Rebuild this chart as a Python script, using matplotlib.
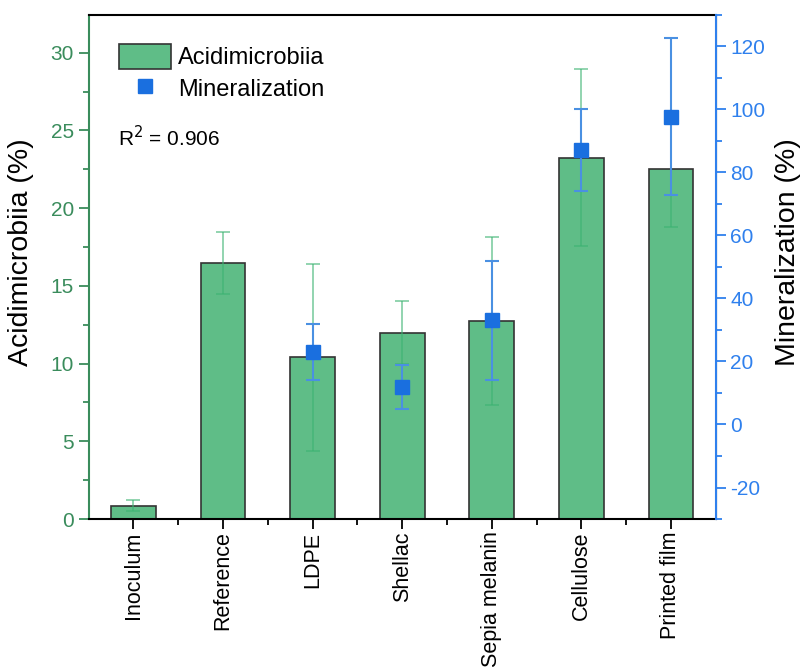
import numpy as np
import matplotlib
matplotlib.use('Agg')
import matplotlib.pyplot as plt
from matplotlib.patches import Patch
from matplotlib.lines import Line2D
from matplotlib.ticker import MultipleLocator

plt.rcParams['font.family'] = ['Liberation Sans', 'DejaVu Sans']
plt.rcParams['axes.unicode_minus'] = False

# data
cats = ['Inoculum', 'Reference', 'LDPE', 'Shellac', 'Sepia melanin', 'Cellulose', 'Printed film']
acid = [0.85, 16.5, 10.4, 12.0, 12.75, 23.25, 22.5]
acid_err = [0.35, 2.0, 6.0, 2.0, 5.4, 5.7, 3.7]
mineral = [np.nan, np.nan, 23.0, 12.0, 33.0, 87.0, 97.7]
mineral_err = [np.nan, np.nan, 9.0, 7.0, 19.0, 13.0, 24.8]

green = '#3a8c5c'
bar_col = '#5fbd87'
blue = '#1a6fdf'
blue_ax = '#2f80ed'

fig = plt.figure(figsize=(8.06, 6.68), dpi=100)
ax = fig.add_axes([0.110, 0.223, 0.778, 0.755])
x = np.arange(len(cats))

ax.bar(x, acid, width=0.5, color=bar_col, edgecolor='#333333', linewidth=1.2, zorder=2)
ax.errorbar(x, acid, yerr=acid_err, fmt='none', ecolor='#3cb371', alpha=0.6,
            elinewidth=1.3, capsize=5, capthick=1.3, zorder=3)
ax.set_xlim(-0.5, 6.5)
ax.set_ylim(0, 32.45)
ax.set_xticks(x)
ax.set_xticklabels(cats, rotation=90, fontsize=15.5)
ax.set_xticks(x[:-1] + 0.5, minor=True)
ax.yaxis.set_major_locator(MultipleLocator(5))
ax.yaxis.set_minor_locator(MultipleLocator(2.5))
ax.tick_params(axis='y', colors=green, labelsize=15, direction='out', length=7, width=1.3)
ax.tick_params(axis='y', which='minor', colors=green, direction='out', length=4, width=1.3)
ax.tick_params(axis='x', direction='out', length=7, width=1.3, pad=2)
ax.tick_params(axis='x', which='minor', direction='out', length=4, width=1.3)
ax.spines['left'].set_color(green)
ax.spines['left'].set_linewidth(1.5)
ax.spines['bottom'].set_linewidth(1.5)
ax.spines['top'].set_linewidth(1.5)
ax.set_ylabel('Acidimicrobiia (%)', fontsize=20.5, labelpad=3)
ax.yaxis.set_label_coords(-0.087, 0.53)

ax2 = ax.twinx()
ax2.errorbar(x, mineral, yerr=mineral_err, fmt='s', color=blue, ecolor='#4a90e2',
             markersize=10, elinewidth=1.5, capsize=5, capthick=1.5, zorder=4)
ax2.set_ylim(-30, 130)
ax2.yaxis.set_major_locator(MultipleLocator(20))
ax2.yaxis.set_minor_locator(MultipleLocator(10))
ax2.tick_params(axis='y', colors=blue_ax, labelsize=15, direction='out', length=7, width=1.3)
ax2.tick_params(axis='y', which='minor', colors=blue_ax, direction='out', length=4, width=1.3)
ax2.spines['right'].set_color(blue_ax)
ax2.spines['right'].set_linewidth(1.5)
ax2.spines['left'].set_visible(False)
ax2.spines['top'].set_visible(False)
ax2.spines['bottom'].set_visible(False)
ax2.set_ylabel('Mineralization (%)', fontsize=20.5, rotation=90, labelpad=8)
ax2.yaxis.set_label_coords(1.095, 0.53)

handles = [Patch(facecolor=bar_col, edgecolor='#333333', linewidth=1.2),
           Line2D([], [], marker='s', color=blue, linestyle='none', markersize=10)]
ax.legend(handles, ['Acidimicrobiia', 'Mineralization'], loc='upper left',
          bbox_to_anchor=(0.015, 0.985), frameon=False, fontsize=17,
          handlelength=2.2, handleheight=1.3, handletextpad=0.3, labelspacing=0.25)
ax.text(0.046, 0.74, 'R$^2$ = 0.906', transform=ax.transAxes, fontsize=15)

fig.savefig('out.png', dpi=100)
